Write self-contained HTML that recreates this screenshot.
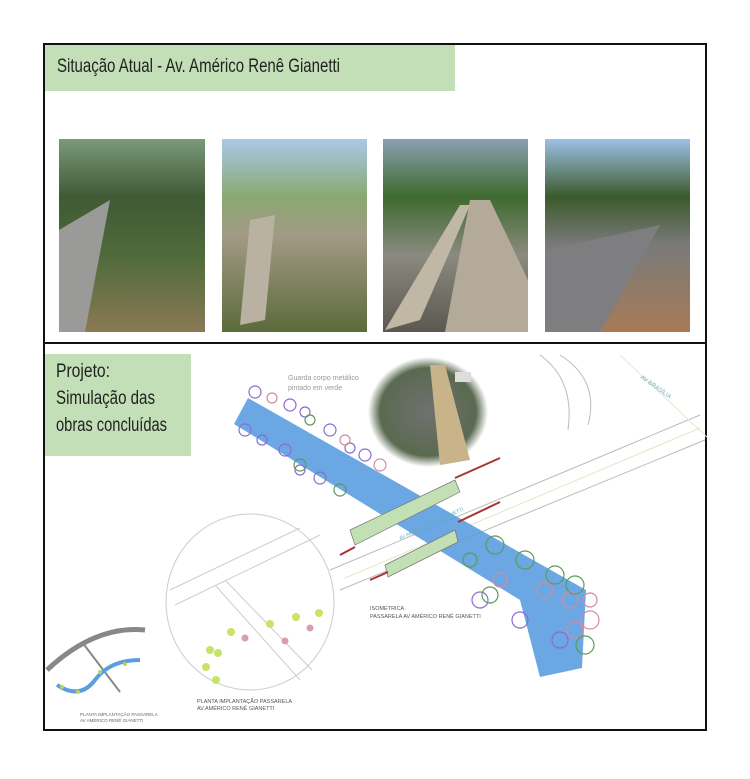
<!DOCTYPE html>
<html><head><meta charset="utf-8"><style>
body{margin:0;background:#fff;width:750px;height:774px;overflow:hidden;font-family:"Liberation Sans",sans-serif}
</style></head><body>
<svg width="750" height="774" viewBox="0 0 750 774" xmlns="http://www.w3.org/2000/svg">
<defs>
<linearGradient id="p1" x1="0" y1="0" x2="0" y2="1"><stop offset="0" stop-color="#7a9a78"/><stop offset=".3" stop-color="#3f5a35"/><stop offset=".6" stop-color="#4f6a3a"/><stop offset="1" stop-color="#8a7a55"/></linearGradient>
<linearGradient id="p2" x1="0" y1="0" x2="0" y2="1"><stop offset="0" stop-color="#a9c9e8"/><stop offset=".3" stop-color="#8aa870"/><stop offset=".5" stop-color="#a29a85"/><stop offset="1" stop-color="#5b6b3a"/></linearGradient>
<linearGradient id="p3" x1="0" y1="0" x2="0" y2="1"><stop offset="0" stop-color="#8aa0b0"/><stop offset=".3" stop-color="#3e6a2e"/><stop offset=".6" stop-color="#8b8a80"/><stop offset="1" stop-color="#5a5850"/></linearGradient>
<linearGradient id="p4" x1="0" y1="0" x2="0" y2="1"><stop offset="0" stop-color="#9dc0e6"/><stop offset=".3" stop-color="#3c5a2c"/><stop offset=".55" stop-color="#7a7a7a"/><stop offset="1" stop-color="#a87a55"/></linearGradient>
<radialGradient id="cp" cx=".5" cy=".5" r=".5"><stop offset="0" stop-color="#707070"/><stop offset=".8" stop-color="#5a6a50"/><stop offset="1" stop-color="#fff"/></radialGradient>
</defs>
<rect x="44" y="44" width="662" height="686" fill="none" stroke="#111" stroke-width="2"/>
<line x1="44" y1="343" x2="706" y2="343" stroke="#111" stroke-width="2"/>
<rect x="45" y="45" width="410" height="46" fill="#c3dfb8"/>
<text x="57" y="72" font-size="19" fill="#222" textLength="283" lengthAdjust="spacingAndGlyphs">Situação Atual - Av. Américo Renê Gianetti</text>
<rect x="59" y="139" width="146" height="193" fill="url(#p1)"/>
<polygon points="59,230 110,200 85,332 59,332" fill="#9a9a98"/>
<rect x="222" y="139" width="145" height="193" fill="url(#p2)"/>
<polygon points="250,220 275,215 265,320 240,325" fill="#b9b2a2"/>
<rect x="383" y="139" width="145" height="193" fill="url(#p3)"/>
<polygon points="470,200 490,200 528,280 528,332 445,332" fill="#b3aa9a"/>
<polygon points="460,205 470,205 420,320 385,330" fill="#c0b8a5"/>
<rect x="545" y="139" width="145" height="193" fill="url(#p4)"/>
<polygon points="545,250 660,225 600,332 545,332" fill="#7e7e80"/>
<rect x="45" y="354" width="146" height="102" fill="#c3dfb8"/>
<text font-size="19" fill="#222"><tspan x="56" y="377" textLength="54" lengthAdjust="spacingAndGlyphs">Projeto:</tspan><tspan x="56" y="404" textLength="99" lengthAdjust="spacingAndGlyphs">Simulação das</tspan><tspan x="56" y="431" textLength="111" lengthAdjust="spacingAndGlyphs">obras concluídas</tspan></text>
<g stroke="#bbb" stroke-width="1" fill="none">
<line x1="330" y1="570" x2="700" y2="415"/>
<line x1="340" y1="590" x2="705" y2="440"/>
<line x1="345" y1="578" x2="700" y2="428" stroke="#dfe8c8"/>
<path d="M540 355 Q575 380 568 430"/>
<path d="M560 355 Q600 380 588 425"/>
<line x1="620" y1="355" x2="710" y2="440" stroke="#e3ebcf"/>
</g>
<text x="640" y="378" font-size="6" fill="#7ab" transform="rotate(35 640 378)">AV BRASÍLIA</text>
<polygon points="248,398 586,590 582,668 540,677 520,600 234,424" fill="#5b9ee0" opacity=".9"/>
<g fill="none" stroke-width="1.2">
<g stroke="#8a6ad0"><circle cx="255" cy="392" r="6"/><circle cx="290" cy="405" r="6"/><circle cx="330" cy="430" r="6"/><circle cx="365" cy="455" r="6"/><circle cx="245" cy="430" r="6"/><circle cx="285" cy="450" r="6"/><circle cx="320" cy="478" r="6"/><circle cx="480" cy="600" r="8"/><circle cx="520" cy="620" r="8"/><circle cx="560" cy="640" r="8"/><circle cx="305" cy="412" r="5"/><circle cx="350" cy="448" r="5"/><circle cx="262" cy="440" r="5"/><circle cx="300" cy="470" r="5"/></g>
<g stroke="#d48aa0"><circle cx="272" cy="398" r="5"/><circle cx="345" cy="440" r="5"/><circle cx="380" cy="465" r="6"/><circle cx="570" cy="600" r="8"/><circle cx="590" cy="620" r="9"/><circle cx="545" cy="590" r="8"/><circle cx="500" cy="580" r="7"/><circle cx="575" cy="630" r="8"/><circle cx="590" cy="600" r="7"/></g>
<g stroke="#5a9a5a"><circle cx="310" cy="420" r="5"/><circle cx="300" cy="465" r="6"/><circle cx="340" cy="490" r="6"/><circle cx="495" cy="545" r="9"/><circle cx="525" cy="560" r="9"/><circle cx="555" cy="575" r="9"/><circle cx="585" cy="645" r="9"/><circle cx="490" cy="595" r="8"/><circle cx="470" cy="560" r="7"/><circle cx="575" cy="585" r="9"/></g>
</g>
<polygon points="350,530 455,480 460,492 355,545" fill="#c3e0b5" stroke="#777" stroke-width=".7"/>
<polygon points="385,565 455,530 458,542 388,577" fill="#c3e0b5" stroke="#777" stroke-width=".7"/>
<line x1="455" y1="478" x2="500" y2="458" stroke="#a33" stroke-width="2"/>
<line x1="340" y1="555" x2="355" y2="547" stroke="#a33" stroke-width="2"/>
<line x1="458" y1="522" x2="500" y2="502" stroke="#a33" stroke-width="2"/>
<line x1="370" y1="580" x2="388" y2="572" stroke="#a33" stroke-width="2"/>
<text x="400" y="540" font-size="5" fill="#6ab" transform="rotate(-25 400 540)">AV AMÉRICO RENÊ GIANETTI</text>
<ellipse cx="428" cy="412" rx="60" ry="55" fill="url(#cp)"/>
<polygon points="430,365 445,365 470,460 440,465" fill="#c9b48a"/>
<rect x="455" y="372" width="16" height="10" fill="#ddd"/>
<text font-size="7" fill="#999"><tspan x="288" y="380">Guarda corpo metálico</tspan><tspan x="288" y="390">pintado em verde</tspan></text>
<ellipse cx="250" cy="602" rx="84" ry="88" fill="none" stroke="#ccc"/>
<g stroke="#ccc" fill="none"><line x1="170" y1="590" x2="300" y2="528"/><line x1="175" y1="605" x2="320" y2="535"/><line x1="215" y1="585" x2="300" y2="680"/><line x1="225" y1="580" x2="312" y2="670"/></g>
<g fill="#c7e36a"><circle cx="206" cy="667" r="4"/><circle cx="218" cy="653" r="4"/><circle cx="210" cy="650" r="4"/><circle cx="231" cy="632" r="4"/><circle cx="270" cy="624" r="4"/><circle cx="296" cy="617" r="4"/><circle cx="319" cy="613" r="4"/><circle cx="216" cy="680" r="4"/></g>
<g fill="#d7a0a8"><circle cx="245" cy="638" r="3.5"/><circle cx="285" cy="641" r="3.5"/><circle cx="310" cy="628" r="3.5"/></g>
<text font-size="5.5" fill="#555"><tspan x="197" y="703">PLANTA IMPLANTAÇÃO PASSARELA</tspan><tspan x="197" y="710">AV.AMÉRICO RENÊ GIANETTI</tspan></text>
<text font-size="5.5" fill="#555"><tspan x="370" y="610">ISOMÉTRICA</tspan><tspan x="370" y="618">PASSARELA AV AMÉRICO RENÊ GIANETTI</tspan></text>
<path d="M47 670 Q95 625 145 630" stroke="#888" stroke-width="5" fill="none"/>
<line x1="82" y1="642" x2="120" y2="692" stroke="#888" stroke-width="2"/>
<path d="M57 685 Q80 700 95 680 T140 660" stroke="#5b9ee0" stroke-width="4" fill="none"/>
<g fill="#b8d75a"><circle cx="62" cy="687" r="2"/><circle cx="78" cy="692" r="2"/><circle cx="100" cy="672" r="2"/><circle cx="125" cy="664" r="2"/></g>
<text font-size="4.5" fill="#666"><tspan x="80" y="716">PLANTA IMPLANTAÇÃO PASSARELA</tspan><tspan x="80" y="722">AV AMÉRICO RENÊ GIANETTI</tspan></text>
</svg>
</body></html>
